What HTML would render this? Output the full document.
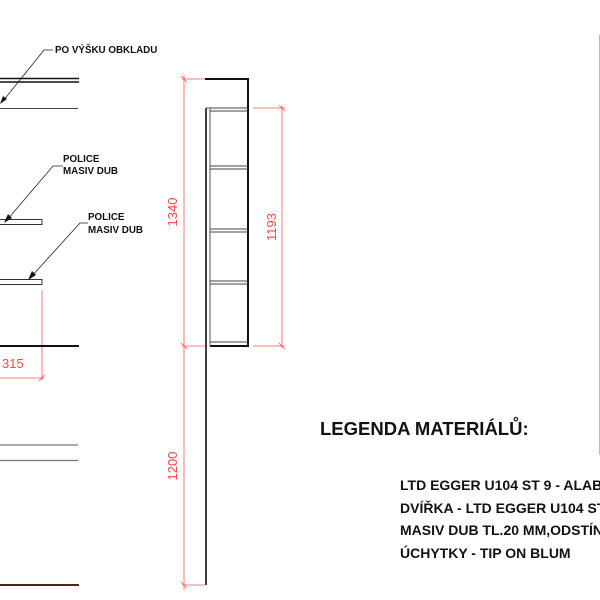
<!DOCTYPE html>
<html><head><meta charset="utf-8"><style>
html,body{margin:0;padding:0;background:#fff;width:600px;height:600px;overflow:hidden}
svg{display:block}
.t{font-family:"Liberation Sans",Arial,sans-serif;font-weight:bold;fill:#111}
.d{font-family:"Liberation Sans Narrow","Liberation Sans",sans-serif;fill:#f44;font-size:13px}
</style></head><body>
<svg width="600" height="600" viewBox="0 0 600 600" xmlns="http://www.w3.org/2000/svg">
<line x1="0" y1="78.5" x2="79" y2="78.5" stroke="#111" stroke-width="1.5"/>
<line x1="0" y1="82" x2="79" y2="82" stroke="#111" stroke-width="1.5"/>
<line x1="0" y1="108.5" x2="78" y2="108.5" stroke="#444" stroke-width="1"/>
<polyline points="53,50 44,50 3,101" fill="none" stroke="#222" stroke-width="0.8"/>
<polygon points="0,104 3,96 7,99" fill="#111"/>
<text class="t" x="55" y="53" font-size="9.8">PO VÝŠKU OBKLADU</text>
<rect x="-2" y="219.5" width="44" height="5" fill="none" stroke="#333" stroke-width="1"/>
<polyline points="63,166 53,166 7,220" fill="none" stroke="#222" stroke-width="0.8"/>
<polygon points="4,223 8,214 12,218" fill="#111"/>
<text class="t" x="63" y="162" font-size="9.8">POLICE</text>
<text class="t" x="63" y="174" font-size="9.8">MASIV DUB</text>
<rect x="-2" y="279.5" width="44" height="5" fill="none" stroke="#333" stroke-width="1"/>
<polyline points="88,223 80,223 31,277" fill="none" stroke="#222" stroke-width="0.8"/>
<polygon points="28,280 32,271 36,275" fill="#111"/>
<text class="t" x="88" y="220" font-size="9.8">POLICE</text>
<text class="t" x="88" y="233" font-size="9.8">MASIV DUB</text>
<line x1="42" y1="290" x2="42" y2="380" stroke="#f55" stroke-width="0.8"/>
<line x1="0" y1="378" x2="44" y2="378" stroke="#f55" stroke-width="0.8"/>
<line x1="39" y1="381" x2="45" y2="375" stroke="#f55" stroke-width="0.8"/>
<text class="d" x="2" y="368">315</text>
<line x1="0" y1="346" x2="79" y2="346" stroke="#111" stroke-width="2"/>
<line x1="0" y1="445" x2="78" y2="445" stroke="#777" stroke-width="1.2"/>
<line x1="0" y1="460.5" x2="78" y2="460.5" stroke="#777" stroke-width="1.2"/>
<line x1="0" y1="585" x2="79" y2="585" stroke="#5a2020" stroke-width="2"/>

<polyline points="205,79 248,79 248,346 210,346" fill="none" stroke="#111" stroke-width="2"/>
<line x1="206" y1="108" x2="206" y2="585" stroke="#111" stroke-width="1.6"/>
<line x1="210" y1="108" x2="210" y2="346" stroke="#555" stroke-width="1"/>
<line x1="206" y1="108" x2="210" y2="108" stroke="#555" stroke-width="1"/>
<g stroke="#444" stroke-width="0.9">
<line x1="210" y1="108" x2="248" y2="108"/><line x1="210" y1="111" x2="248" y2="111"/>
<line x1="210" y1="166" x2="248" y2="166"/><line x1="210" y1="169" x2="248" y2="169"/>
<line x1="210" y1="229" x2="248" y2="229"/><line x1="210" y1="232" x2="248" y2="232"/>
<line x1="210" y1="281" x2="248" y2="281"/><line x1="210" y1="284" x2="248" y2="284"/>
<line x1="210" y1="342" x2="248" y2="342"/>
</g>
<g stroke="#f55" stroke-width="0.8" fill="none">
<line x1="184" y1="75" x2="184" y2="590"/>
<line x1="182" y1="79" x2="205" y2="79"/>
<line x1="182" y1="346" x2="205" y2="346"/>
<line x1="182" y1="585" x2="205" y2="585"/>
<line x1="181" y1="76" x2="187" y2="82"/>
<line x1="181" y1="343" x2="187" y2="349"/>
<line x1="181" y1="582" x2="187" y2="588"/>
<line x1="282" y1="106" x2="282" y2="348"/>
<line x1="253" y1="108" x2="285" y2="108"/>
<line x1="253" y1="346" x2="285" y2="346"/>
<line x1="279" y1="105" x2="285" y2="111"/>
<line x1="279" y1="343" x2="285" y2="349"/>
</g>
<text class="d" transform="translate(177,212) rotate(-90)" text-anchor="middle">1340</text>
<text class="d" transform="translate(276,227) rotate(-90)" text-anchor="middle">1193</text>
<text class="d" transform="translate(177,466) rotate(-90)" text-anchor="middle">1200</text>

<line x1="599.5" y1="35" x2="599.5" y2="455" stroke="#bbb" stroke-width="1"/>

<text class="t" x="320" y="435" font-size="18.5">LEGENDA MATERIÁLŮ:</text>
<text class="t" x="400" y="490" font-size="14">LTD EGGER U104 ST 9 - ALABASTROVÁ BÍLÁ</text>
<text class="t" x="400" y="513" font-size="14">DVÍŘKA - LTD EGGER U104 ST 9</text>
<text class="t" x="400" y="535" font-size="14">MASIV DUB TL.20 MM,ODSTÍN</text>
<text class="t" x="400" y="558" font-size="14">ÚCHYTKY - TIP ON BLUM</text>
</svg>
</body></html>
